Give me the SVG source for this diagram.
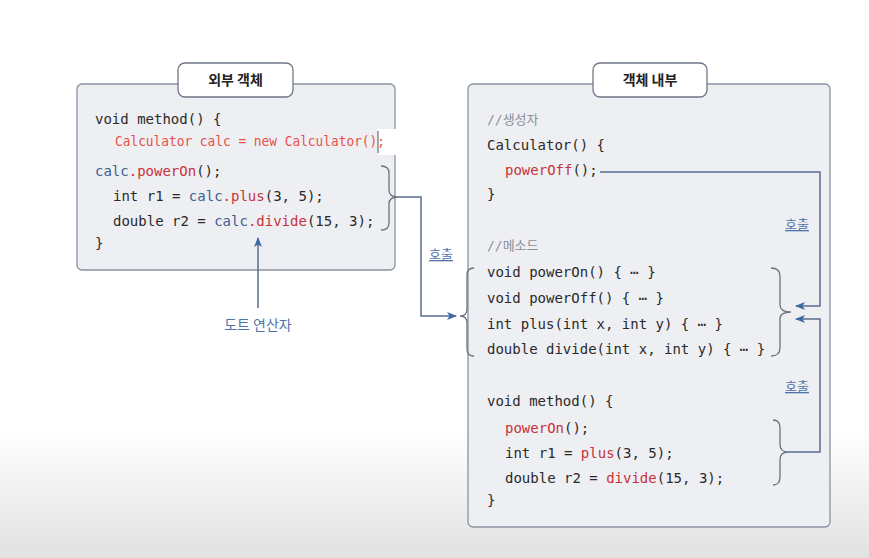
<svg xmlns="http://www.w3.org/2000/svg" width="869" height="558" viewBox="0 0 869 558">
<defs>
<linearGradient id="bg" x1="0" y1="0" x2="0" y2="1">
<stop offset="0" stop-color="#ffffff"/>
<stop offset="1" stop-color="#e2e2e2"/>
</linearGradient>
<marker id="ah" markerWidth="10" markerHeight="8" refX="9" refY="4" orient="auto" markerUnits="userSpaceOnUse">
<path d="M0,0 L10,4 L0,8 L2.5,4 Z" fill="#3f68a3"/>
</marker>
<style>
.box{fill:#eeeff3;stroke:#8a93a3;stroke-width:1.3}
.tab{fill:#ffffff;stroke:#6f7786;stroke-width:1.3}
.ttl{font-family:"Noto Sans CJK KR","Noto Sans",sans-serif;font-size:14px;font-weight:bold;fill:#222;text-anchor:middle}
.code{font-family:"DejaVu Sans Mono","Liberation Mono",monospace;font-size:14px;fill:#2a2a2a}
.cm{font-family:"DejaVu Sans Mono","Noto Sans CJK KR",monospace;font-size:13px;fill:#8a8f98}
.red{fill:#c8323a}
.lred{fill:#e8504a}
.blu{fill:#3d5f94}
.lbl{font-family:"Noto Sans CJK KR",sans-serif;font-size:13px;fill:#4f72aa;text-anchor:middle}
.brace{fill:none;stroke:#6b7483;stroke-width:1.3}
.conn{fill:none;stroke:#5a6e8e;stroke-width:1.5}
</style>
</defs>
<rect x="0" y="0" width="869" height="558" fill="#ffffff"/>
<rect x="0" y="430" width="869" height="128" fill="url(#bg)"/>

<g id="outer-object">
<rect class="box" x="77" y="84" width="318" height="186" rx="5"/>
<rect x="378" y="129" width="22" height="26" fill="#ffffff"/>
<line x1="378" y1="131" x2="378" y2="153" stroke="#555" stroke-width="1"/>
<rect class="tab" x="178" y="63" width="115" height="34" rx="7"/>
<text class="ttl" x="235.5" y="85">외부 객체</text>
<text class="code" x="95" y="124">void method() {</text>
<text class="code lred" x="115" y="146" textLength="270" lengthAdjust="spacingAndGlyphs">Calculator calc = new Calculator();</text>
<text class="code" x="95" y="176"><tspan class="blu">calc</tspan><tspan class="red">.powerOn</tspan>();</text>
<text class="code" x="113" y="201">int r1 = <tspan class="blu">calc</tspan><tspan class="red">.plus</tspan>(3, 5);</text>
<text class="code" x="113" y="226">double r2 = <tspan class="blu">calc</tspan><tspan class="red">.divide</tspan>(15, 3);</text>
<text class="code" x="95" y="248">}</text>
<path class="brace" d="M381,166 Q389,166 389,173 L389,190 Q389,197 398,197 Q389,197 389,204 L389,223 Q389,230 381,230"/>
</g>

<g id="inner-object">
<rect class="box" x="468" y="84" width="362" height="443" rx="5"/>
<rect class="tab" x="593" y="63" width="114" height="34" rx="7"/>
<text class="ttl" x="650" y="85">객체 내부</text>
<text class="cm" x="487" y="124">//생성자</text>
<text class="code" x="487" y="150">Calculator() {</text>
<text class="code red" x="505" y="175">powerOff<tspan fill="#2a2a2a">();</tspan></text>
<text class="code" x="487" y="199">}</text>
<text class="cm" x="487" y="250">//메소드</text>
<text class="code" x="487" y="277">void powerOn() { ⋯ }</text>
<text class="code" x="487" y="303">void powerOff() { ⋯ }</text>
<text class="code" x="487" y="329">int plus(int x, int y) { ⋯ }</text>
<text class="code" x="487" y="354">double divide(int x, int y) { ⋯ }</text>
<text class="code" x="487" y="406">void method() {</text>
<text class="code" x="505" y="433"><tspan class="red">powerOn</tspan>();</text>
<text class="code" x="505" y="458">int r1 = <tspan class="red">plus</tspan>(3, 5);</text>
<text class="code" x="505" y="483">double r2 = <tspan class="red">divide</tspan>(15, 3);</text>
<text class="code" x="487" y="505">}</text>
<path class="brace" d="M474,268 Q467,268 467,275 L467,309 Q467,316 460,316 Q467,316 467,323 L467,349 Q467,356 474,356"/>
<path class="brace" d="M771,268 Q780,268 780,276 L780,305 Q780,312 791,312 Q780,312 780,319 L780,348 Q780,356 771,356"/>
<path class="brace" d="M773,420 Q780,420 780,428 L780,444 Q780,452 788,452 Q780,452 780,460 L780,477 Q780,485 773,485"/>
</g>

<g id="connectors">
<polyline class="conn" points="398,197 421,197 421,316 456,316" marker-end="url(#ah)"/>
<line class="conn" x1="258" y1="308" x2="258" y2="238" marker-end="url(#ah)"/>
<polyline class="conn" points="600,172 820,172 820,306 796,306" marker-end="url(#ah)"/>
<polyline class="conn" points="788,452 820,452 820,319 796,319" marker-end="url(#ah)"/>
</g>

<g id="labels">
<text class="lbl" x="441" y="259" text-decoration="underline">호출</text>
<text class="lbl" x="797" y="229" text-decoration="underline">호출</text>
<text class="lbl" x="797" y="391" text-decoration="underline">호출</text>
<text class="lbl" x="258" y="330" style="font-size:14px">도트 연산자</text>
</g>
</svg>
